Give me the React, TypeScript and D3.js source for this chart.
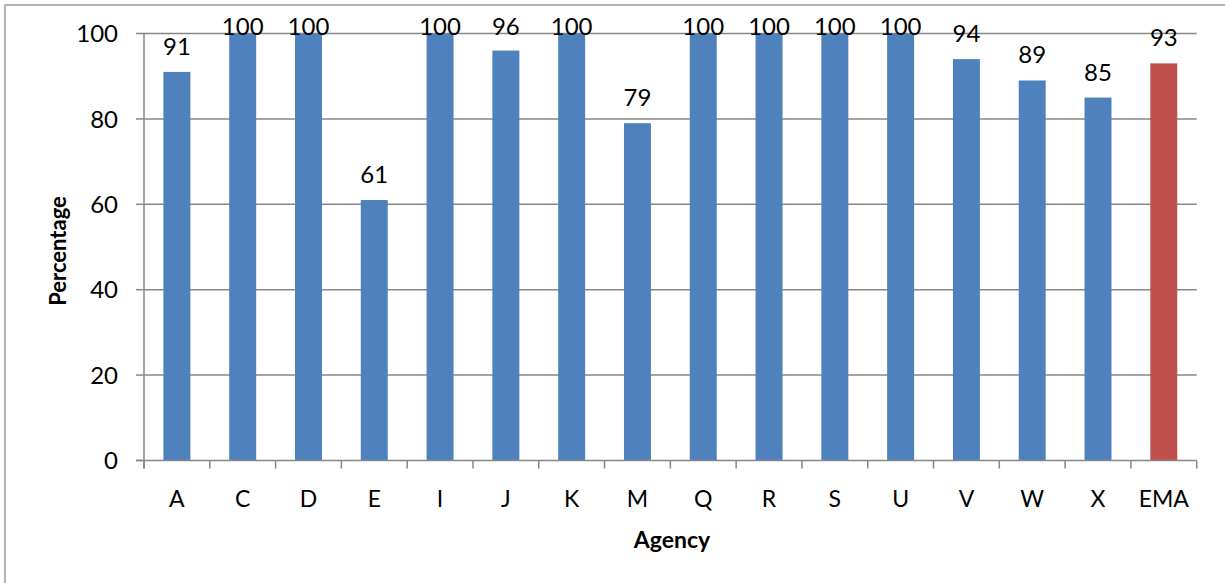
import React from "react";
import * as d3 from "d3";

const categories = ["A", "C", "D", "E", "I", "J", "K", "M", "Q", "R", "S", "U", "V", "W", "X", "EMA"];
const values = [91, 100, 100, 61, 100, 96, 100, 79, 100, 100, 100, 100, 94, 89, 85, 93];
const barColors = ["#4F81BD", "#4F81BD", "#4F81BD", "#4F81BD", "#4F81BD", "#4F81BD", "#4F81BD", "#4F81BD", "#4F81BD", "#4F81BD", "#4F81BD", "#4F81BD", "#4F81BD", "#4F81BD", "#4F81BD", "#C0504D"];
const yTicks = [0, 20, 40, 60, 80, 100];

const W = 1225;
const H = 583;
const FONT = "Lato, 'Open Sans', sans-serif";

export default function App() {
  const left = 144;
  const right = 1196.7;
  const top = 33.5;
  const bottom = 460.5;
  const x = d3.scaleBand<string>().domain(categories).range([left, right]).paddingInner(0.59).paddingOuter(0.295);
  const band = d3.scaleBand<string>().domain(categories).range([left, right]);
  const y = d3.scaleLinear().domain([0, 100]).range([bottom, top]);
  const grid = "#878787";

  return (
    <svg width={W} height={H} style={{ position: "absolute", left: 0, top: 0, background: "#fff" }}>
      <rect x={5} y={5} width={W + 20} height={H + 20} fill="#fff" stroke="#9a9a9a" strokeWidth={1.5} />
      {yTicks.map((t) => (
        <g key={t}>
          {t > 0 && <line x1={left} x2={right} y1={y(t)} y2={y(t)} stroke={grid} strokeWidth={1.5} />}
          <line x1={left - 8} x2={left} y1={y(t)} y2={y(t)} stroke={grid} strokeWidth={1.5} />
          <text x={118} y={y(t)} dy="0.36em" textAnchor="end" fontFamily={FONT} fontSize={24} fill="#000">
            {t}
          </text>
        </g>
      ))}
      {categories.map((c, i) => (
        <g key={c}>
          <rect x={x(c)} y={y(values[i])} width={x.bandwidth()} height={bottom - y(values[i])} fill={barColors[i]} />
          <text
            x={(x(c) as number) + x.bandwidth() / 2}
            y={Math.max(y(values[i]) - 17, 35)}
            textAnchor="middle"
            fontFamily={FONT}
            fontSize={24}
            fill="#000"
          >
            {values[i]}
          </text>
          <text
            x={(x(c) as number) + x.bandwidth() / 2}
            y={507}
            textAnchor="middle"
            fontFamily={FONT}
            fontSize={23}
            fill="#000"
          >
            {c}
          </text>
        </g>
      ))}
      {categories.map((c) => (
        <line key={"t" + c} x1={band(c)} x2={band(c)} y1={bottom} y2={bottom + 8} stroke={grid} strokeWidth={1.5} />
      ))}
      <line x1={right} x2={right} y1={bottom} y2={bottom + 8} stroke={grid} strokeWidth={1.5} />
      <line x1={left} x2={left} y1={top} y2={bottom + 8} stroke={grid} strokeWidth={1.5} />
      <line x1={left - 8} x2={right} y1={bottom} y2={bottom} stroke={grid} strokeWidth={1.5} />
      <text
        transform={`translate(66,251) rotate(-90)`}
        textAnchor="middle"
        fontFamily={FONT}
        fontSize={22}
        fontWeight="bold"
        fill="#000"
      >
        Percentage
      </text>
      <text x={672} y={548} textAnchor="middle" fontFamily={FONT} fontSize={23} fontWeight="bold" fill="#000">
        Agency
      </text>
    </svg>
  );
}
